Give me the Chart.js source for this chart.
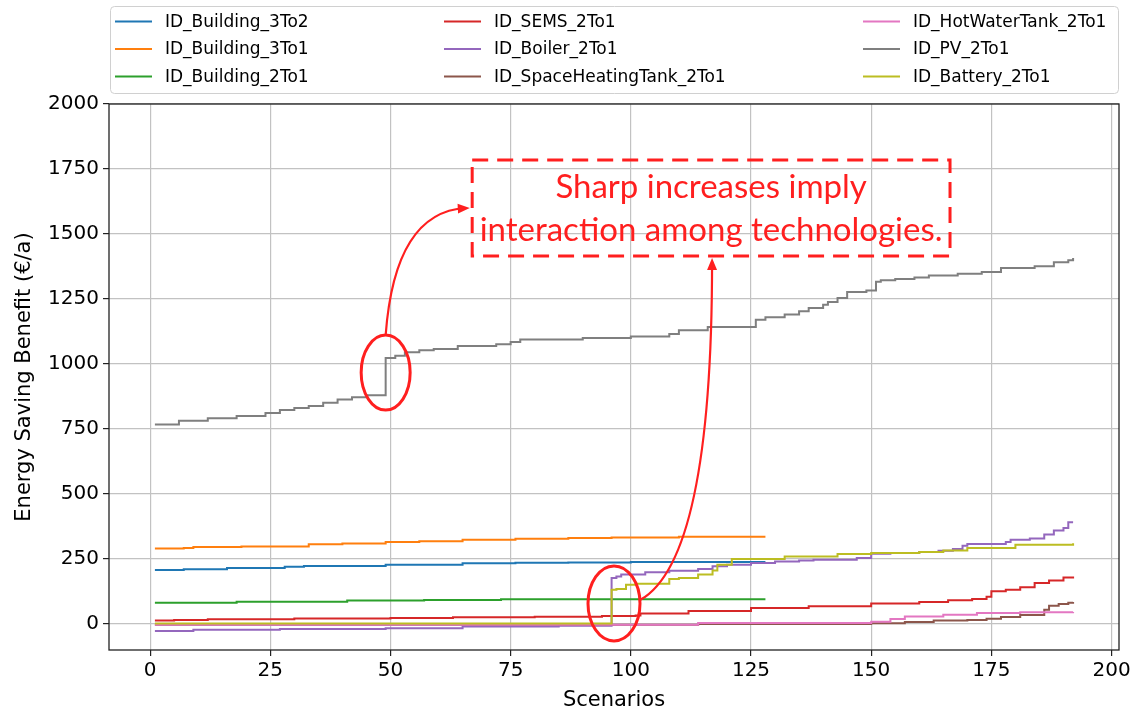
<!DOCTYPE html>
<html>
<head>
<meta charset="utf-8">
<script src="https://cdn.jsdelivr.net/npm/chart.js@4.4.1/dist/chart.umd.min.js"></script>
<style>
  html, body { margin: 0; padding: 0; background: #ffffff; }
  canvas { display: block; }
</style>
</head>
<body>
<canvas id="chart" width="1139" height="713"></canvas>
<script>
// ---- Data: sorted energy saving benefit per scenario (breakpoints of each step curve) ----
const building3To2X = [1, 7, 16, 28, 32, 49, 65, 76, 87, 100, 128];
const building3To2Y = [208, 211, 215, 220, 223, 228, 234, 236, 237, 238, 238];

const building3To1X = [1, 7, 9, 19, 33, 40, 49, 56, 65, 76, 87, 96, 110, 128];
const building3To1Y = [290, 292, 296, 298, 307, 310, 315, 318, 324, 328, 331, 333, 336, 336];

const building2To1X = [1, 18, 41, 57, 73, 128];
const building2To1Y = [82, 86, 90, 92, 95, 95];

const semsX = [1, 5, 12, 30, 50, 63, 80, 94, 101, 102, 112, 125, 137, 150, 160, 166, 171, 174, 175, 178, 181, 184, 187, 190, 192];
const semsY = [13, 15, 18, 21, 23, 26, 28, 31, 33, 40, 50, 62, 68, 79, 85, 91, 96, 105, 126, 132, 141, 158, 167, 179, 183];

const boilerX = [1, 9, 27, 49, 65, 85, 96, 97, 98, 103, 108, 114, 117, 120, 125, 130, 135, 138, 147, 150, 154, 160, 164, 167, 169, 170, 178, 179, 183, 186, 188, 190, 191, 192];
const boilerY = [-27, -22, -19, -16, -10, -7, 177, 183, 190, 199, 205, 212, 222, 228, 235, 240, 244, 247, 254, 270, 273, 277, 282, 288, 301, 308, 315, 324, 329, 344, 360, 369, 391, 391];

const spaceHeatingX = [1, 114, 150, 157, 163, 170, 174, 177, 181, 186, 187, 189, 191, 192];
const spaceHeatingY = [-3, 0, 3, 8, 13, 15, 20, 27, 35, 55, 70, 77, 82, 85];

const hotWaterX = [1, 114, 150, 154, 157, 165, 172, 181, 192];
const hotWaterY = [-3, 4, 9, 19, 29, 36, 42, 45, 46];

const pvX = [1, 6, 12, 18, 24, 27, 30, 33, 36, 39, 42, 45, 49, 51, 53, 56, 59, 64, 72, 75, 77, 90, 100, 108, 110, 116, 126, 128, 132, 135, 137, 140, 141, 143, 145, 149, 151, 152, 155, 159, 162, 168, 173, 177, 184, 188, 191, 192];
const pvY = [767, 782, 791, 800, 812, 823, 831, 838, 851, 863, 872, 880, 1023, 1032, 1045, 1053, 1058, 1069, 1076, 1085, 1094, 1100, 1106, 1115, 1130, 1142, 1170, 1180, 1190, 1203, 1215, 1228, 1238, 1254, 1277, 1283, 1316, 1322, 1327, 1333, 1340, 1347, 1354, 1369, 1376, 1391, 1399, 1408];

const batteryX = [1, 96, 97, 99, 101, 108, 110, 114, 117, 118, 121, 132, 143, 150, 160, 165, 170, 180, 192];
const batteryY = [2, 132, 135, 151, 155, 173, 177, 190, 206, 228, 250, 260, 269, 273, 277, 283, 292, 305, 311];

const seriesNames = [
  'ID_Building_3To2', 'ID_Building_3To1', 'ID_Building_2To1',
  'ID_SEMS_2To1', 'ID_Boiler_2To1', 'ID_SpaceHeatingTank_2To1',
  'ID_HotWaterTank_2To1', 'ID_PV_2To1', 'ID_Battery_2To1'
];
const seriesX = [building3To2X, building3To1X, building2To1X, semsX, boilerX, spaceHeatingX, hotWaterX, pvX, batteryX];
const seriesY = [building3To2Y, building3To1Y, building2To1Y, semsY, boilerY, spaceHeatingY, hotWaterY, pvY, batteryY];
const seriesColors = ['#1f77b4', '#ff7f0e', '#2ca02c', '#d62728', '#9467bd', '#8c564b', '#e377c2', '#7f7f7f', '#bcbd22'];

const xTickValues = [0, 25, 50, 75, 100, 125, 150, 175, 200];
const xTickLabels = ['0', '25', '50', '75', '100', '125', '150', '175', '200'];
const yTickValues = [0, 250, 500, 750, 1000, 1250, 1500, 1750, 2000];
const yTickLabels = ['0', '250', '500', '750', '1000', '1250', '1500', '1750', '2000'];

const xTitle = 'Scenarios';
const yTitle = 'Energy Saving Benefit (€/a)';
const noteLines = ['Sharp increases imply', 'interaction among technologies.'];

// ---- Styling ----
const FONT = "'DejaVu Sans', sans-serif";
const NOTE_FONT = "Lato, 'Open Sans', sans-serif";
const NOTE_RED = '#ff1f1f';
const GRID = '#c2c2c2';
const AXIS = '#222222';

// Annotation anchors in data units (scenario, €/a)
const markA = { x: 49.0, y: 967, rx: 24.5, ry: 37.5 };
const markB = { x: 96.5, y: 79, rx: 26, ry: 37.5 };
const noteBox = { x0: 67.0, x1: 166.4, yTop: 1785, yBottom: 1415 };
const noteTextAt = { x: 116.7, y1: 1638, y2: 1473 };
const arrowA = { c: { x: 50.9, y: 1585 }, end: { x: 66.5, y: 1600 } };
const arrowB = { start: { x: 101.9, y: 92 }, c: { x: 116.9, y: 246 }, end: { x: 116.9, y: 1408 } };

// Each value holds until the next breakpoint, then the curve steps up
const datasets = seriesNames.map((name, i) => ({
  label: name,
  data: seriesX[i].map((x, j) => ({ x: x, y: seriesY[i][j] })),
  stepped: 'before',
  borderColor: seriesColors[i],
  backgroundColor: seriesColors[i],
  borderWidth: 2,
  pointRadius: 0,
  fill: false,
  tension: 0,
  order: seriesNames.length - i
}));

function arrowHead(ctx, tip, from, len, halfW) {
  const ang = Math.atan2(tip.y - from.y, tip.x - from.x);
  ctx.beginPath();
  ctx.moveTo(tip.x, tip.y);
  ctx.lineTo(tip.x - len * Math.cos(ang) + halfW * Math.sin(ang), tip.y - len * Math.sin(ang) - halfW * Math.cos(ang));
  ctx.lineTo(tip.x - len * Math.cos(ang) - halfW * Math.sin(ang), tip.y - len * Math.sin(ang) + halfW * Math.cos(ang));
  ctx.closePath();
  ctx.fill();
}

const decorations = {
  id: 'decorations',
  afterDatasetsDraw(chart) {
    const { ctx, chartArea: a } = chart;
    ctx.save();
    ctx.strokeStyle = AXIS;
    ctx.lineWidth = 1.3;
    ctx.strokeRect(a.left, a.top, a.right - a.left, a.bottom - a.top);
    ctx.restore();
  },
  afterDraw(chart) {
    const { ctx, chartArea: a } = chart;
    const xs = chart.scales.x, ys = chart.scales.y;
    const P = (pt) => ({ x: xs.getPixelForValue(pt.x), y: ys.getPixelForValue(pt.y) });

    ctx.save();
    // Axis titles
    ctx.fillStyle = '#000';
    ctx.font = '21px ' + FONT;
    ctx.textAlign = 'center';
    ctx.textBaseline = 'alphabetic';
    ctx.fillText(xTitle, (a.left + a.right) / 2, 706);
    ctx.save();
    ctx.translate(30, (a.top + a.bottom) / 2);
    ctx.rotate(-Math.PI / 2);
    ctx.fillText(yTitle, 0, 0);
    ctx.restore();

    // Legend
    const box = { x: 110, y: 6, w: 1008, h: 87, r: 4 };
    ctx.beginPath();
    ctx.roundRect(box.x + 0.5, box.y + 0.5, box.w, box.h, box.r);
    ctx.fillStyle = 'rgba(255,255,255,0.85)';
    ctx.fill();
    ctx.strokeStyle = '#d0d0d0';
    ctx.lineWidth = 1;
    ctx.stroke();
    const colLine = [115, 444, 863];
    const rowY = [21.5, 49, 76.5];
    ctx.font = '17px ' + FONT;
    ctx.textAlign = 'left';
    ctx.textBaseline = 'middle';
    seriesNames.forEach((name, i) => {
      const c = Math.floor(i / 3), r = i % 3;
      const lx = colLine[c], ly = rowY[r];
      ctx.strokeStyle = seriesColors[i];
      ctx.lineWidth = 2;
      ctx.beginPath();
      ctx.moveTo(lx, ly);
      ctx.lineTo(lx + 37, ly);
      ctx.stroke();
      ctx.fillStyle = '#000';
      ctx.fillText(name, lx + 50, ly + 1);
    });

    // Highlight notes
    ctx.strokeStyle = NOTE_RED;
    ctx.fillStyle = NOTE_RED;
    ctx.lineWidth = 3;
    [markA, markB].forEach(m => {
      const c = P(m);
      ctx.beginPath();
      ctx.ellipse(c.x, c.y, m.rx, m.ry, 0, 0, Math.PI * 2);
      ctx.stroke();
    });

    const b0 = P({ x: noteBox.x0, y: noteBox.yTop });
    const b1 = P({ x: noteBox.x1, y: noteBox.yBottom });
    ctx.setLineDash([16, 9]);
    ctx.strokeRect(b0.x, b0.y, b1.x - b0.x, b1.y - b0.y);
    ctx.setLineDash([]);

    ctx.font = '33px ' + NOTE_FONT;
    ctx.textAlign = 'center';
    ctx.textBaseline = 'alphabetic';
    const t1 = P({ x: noteTextAt.x, y: noteTextAt.y1 });
    const t2 = P({ x: noteTextAt.x, y: noteTextAt.y2 });
    ctx.fillText(noteLines[0], t1.x, t1.y);
    ctx.fillText(noteLines[1], t2.x, t2.y);

    // Curved arrows
    ctx.lineWidth = 2.2;
    const aC = P(markA);
    const aStart = { x: aC.x, y: aC.y - markA.ry };
    const aCtrl = P(arrowA.c), aEnd = P(arrowA.end);
    ctx.beginPath();
    ctx.moveTo(aStart.x, aStart.y);
    ctx.quadraticCurveTo(aCtrl.x, aCtrl.y, aEnd.x - 4, aEnd.y);
    ctx.stroke();
    arrowHead(ctx, aEnd, aCtrl, 12, 5);

    const bStart = P(arrowB.start), bCtrl = P(arrowB.c), bEnd = P(arrowB.end);
    ctx.beginPath();
    ctx.moveTo(bStart.x, bStart.y);
    ctx.quadraticCurveTo(bCtrl.x, bCtrl.y, bEnd.x, bEnd.y + 4);
    ctx.stroke();
    arrowHead(ctx, bEnd, bCtrl, 12, 5);
    ctx.restore();
  }
};

new Chart(document.getElementById('chart'), {
  type: 'line',
  data: { datasets: datasets },
  plugins: [decorations],
  options: {
    responsive: false,
    animation: false,
    devicePixelRatio: 1,
    layout: { padding: { top: 104, right: 20, left: 0, bottom: 0 } },
    plugins: { legend: { display: false }, tooltip: { enabled: false } },
    scales: {
      x: {
        type: 'linear',
        min: -8.55,
        max: 201.55,
        afterBuildTicks: (axis) => { axis.ticks = xTickValues.map(v => ({ value: v })); },
        afterFit: (axis) => { axis.height = 63; },
        ticks: {
          autoSkip: false,
          maxRotation: 0,
          padding: 3,
          color: '#000',
          font: { family: FONT, size: 20 },
          callback: (v, i) => xTickLabels[i]
        },
        grid: { color: GRID, lineWidth: 1.2, tickColor: AXIS, tickLength: 6, drawTicks: true },
        border: { display: false }
      },
      y: {
        type: 'linear',
        min: -100,
        max: 2000,
        afterBuildTicks: (axis) => { axis.ticks = yTickValues.map(v => ({ value: v })); },
        afterFit: (axis) => { axis.width = 109; },
        ticks: {
          autoSkip: false,
          padding: 4,
          color: '#000',
          font: { family: FONT, size: 20 },
          callback: (v, i) => yTickLabels[i]
        },
        grid: { color: GRID, lineWidth: 1.2, tickColor: AXIS, tickLength: 6, drawTicks: true },
        border: { display: false }
      }
    }
  }
});
</script>
</body>
</html>
